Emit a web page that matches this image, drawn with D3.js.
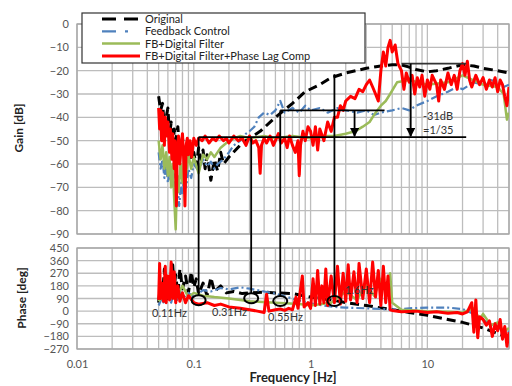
<!DOCTYPE html>
<html>
<head>
<meta charset="utf-8">
<script src="https://cdn.jsdelivr.net/npm/d3@7"></script>
<style>
  body { margin: 0; background: #fff; }
  svg { display: block; }
</style>
</head>
<body>
<svg id="chart" width="512" height="386"></svg>
<script>
// ---- tick labels ----
const freqTicks = [0.01, 0.1, 1, 10];
const freqTickLabels = ['0.01', '0.1', '1', '10'];
const gainTicks = [0, -10, -20, -30, -40, -50, -60, -70, -80, -90];
const phaseTicks = [450, 360, 270, 180, 90, 0, -90, -180, -270];

const seriesNames = ['Original', 'Feedback Control', 'FB+Digital Filter', 'FB+Digital Filter+Phase Lag Comp'];

// ---- Original (gain) ----
const origGainF = [0.050,0.052,0.054,0.056,0.058,0.060,0.062,0.064,0.066,0.068,0.070,0.073,0.076,0.080,0.085,0.090,0.095,0.100,0.105,0.110,0.115,0.120,0.125,0.13,0.14,0.15,0.16,0.17,0.18,0.20,0.26,0.37,0.5,0.7,0.9,1.2,1.5,2.0,3.0,4.0,5.0,6.0,7.0,8.0,10,12,15,18,20,25,30,40,50];
const origGain  = [-31,-37,-34,-44,-40,-36,-48,-42,-52,-45,-50,-44,-56,-49,-57,-52,-58,-55,-61,-53,-58,-54,-62,-56,-67,-58,-63,-55,-60,-57,-51,-46,-40,-34,-29,-26,-23,-21,-19,-18,-17.5,-17.5,-18.5,-19.5,-20.5,-20,-19,-18,-17.5,-18,-19,-20,-21];
// ---- Feedback Control (gain) ----
const fbGainF = [0.050,0.052,0.054,0.056,0.058,0.060,0.062,0.065,0.068,0.070,0.072,0.075,0.078,0.080,0.083,0.086,0.09,0.095,0.10,0.11,0.12,0.13,0.14,0.15,0.16,0.18,0.20,0.22,0.25,0.28,0.30,0.33,0.36,0.40,0.45,0.50,0.55,0.60,0.70,0.80,0.90,1.0,1.2,1.4,1.7,2.0,2.5,3.0,3.5,4.0,5.0,6.0,7.0,8.0,10,12,15,18,20,25,30,35,40,45,50];
const fbGain  = [-55,-62,-58,-66,-60,-68,-63,-70,-64,-72,-66,-78,-68,-73,-65,-70,-62,-66,-60,-63,-58,-61,-59,-62,-60,-58,-55,-52,-50,-47,-46,-44,-40,-38,-39,-37,-33,-38,-36,-38,-35,-37,-36,-38,-36,-37,-38,-37,-39,-38,-37,-36,-37,-35,-33,-31,-29,-27,-28,-25,-26,-24,-25,-27,-26];
// ---- FB+Digital Filter (gain) ----
const dfGainF = [0.050,0.052,0.054,0.056,0.058,0.060,0.062,0.064,0.066,0.068,0.070,0.072,0.074,0.077,0.080,0.083,0.086,0.09,0.095,0.10,0.11,0.12,0.13,0.14,0.15,0.17,0.19,0.22,0.25,0.3,0.4,0.5,0.7,1.0,1.3,1.6,2.0,2.4,2.8,3.2,3.6,4.0,4.4,4.8,5.5,7,10,15,20,30,40,45,48,50];
const dfGain  = [-50,-58,-52,-62,-55,-65,-57,-70,-60,-75,-88,-65,-72,-60,-68,-58,-64,-56,-62,-57,-64,-56,-58,-55,-57,-53,-51,-49,-48,-49,-48,-49,-48,-49,-48,-48,-47,-46,-44,-42,-38,-35,-33,-30,-25,-24,-26,-25,-22,-26,-27,-30,-41,-38];
// ---- FB+Digital Filter+Phase Lag Comp (gain) ----
const plGainF = [0.050,0.051,0.052,0.053,0.054,0.056,0.057,0.059,0.060,0.062,0.063,0.065,0.066,0.068,0.069,0.071,0.072,0.074,0.076,0.078,0.080,0.082,0.084,0.086,0.088,0.090,0.093,0.096,0.100,0.105,0.110,0.118,0.125,0.135,0.145,0.155,0.165,0.18,0.19,0.20,0.22,0.24,0.26,0.28,0.30,0.32,0.34,0.36,0.37,0.38,0.40,0.42,0.45,0.48,0.50,0.53,0.56,0.60,0.63,0.66,0.70,0.74,0.78,0.80,0.82,0.86,0.90,0.95,1.0,1.05,1.1,1.15,1.2,1.3,1.4,1.5,1.6,1.7,1.8,1.9,2.0,2.2,2.4,2.6,2.8,3.0,3.2,3.4,3.6,3.8,4.0,4.2,4.4,4.6,4.8,5.0,5.3,5.6,6.0,6.3,6.6,7.0,7.4,7.8,8.2,8.6,9.0,9.5,10,10.5,11,12,12.5,13,14,15,16,17,18,19,20,21,22,23,24,26,28,30,32,34,36,38,40,42,44,46,48,50];
const plGain  = [-36,-45,-37,-50,-38,-52,-40,-48,-42,-55,-45,-58,-47,-62,-50,-78,-55,-48,-60,-52,-47,-58,-78,-52,-49,-56,-50,-57,-49,-52,-49,-50,-48,-51,-49,-50,-48,-50,-49,-51,-48,-50,-49,-52,-48,-51,-50,-53,-64,-52,-49,-51,-48,-52,-50,-47,-51,-49,-53,-48,-52,-55,-50,-65,-52,-46,-50,-44,-46,-52,-44,-54,-45,-50,-42,-46,-40,-40,-35,-37,-33,-31,-32,-28,-29,-26,-24,-27,-30,-33,-20,-12,-18,-10,-7,-12,-9,-17,-20,-28,-21,-25,-22,-30,-23,-27,-22,-31,-24,-28,-22,-26,-33,-24,-28,-21,-26,-22,-28,-20,-17,-22,-16,-24,-27,-22,-26,-23,-28,-24,-27,-23,-29,-24,-26,-31,-35,-27];

// ---- Original (phase) ----
const origPhaseF = [0.050,0.052,0.054,0.056,0.058,0.060,0.062,0.064,0.066,0.068,0.070,0.073,0.076,0.080,0.085,0.09,0.095,0.10,0.105,0.11,0.12,0.13,0.14,0.15,0.17,0.19,0.22,0.26,0.3,0.4,0.5,0.7,1.0,1.5,2.0,3.0,5.0,7.0,10,15,20,30,40,50];
const origPhase  = [60,200,110,300,150,90,250,130,330,180,260,120,300,160,250,130,280,170,230,120,200,110,240,140,180,130,140,125,130,135,130,125,100,80,60,40,10,-10,-30,-60,-80,-120,-160,-185];
// ---- Feedback Control (phase) ----
const fbPhaseF = [0.050,0.053,0.056,0.06,0.064,0.068,0.072,0.076,0.08,0.09,0.10,0.12,0.14,0.17,0.2,0.25,0.3,0.35,0.4,0.5,0.6,0.7,0.8,1.0,1.3,1.6,2.0,3.0,4.0,5.0,7,10,15,20,25,30,35,40,45,50];
const fbPhase  = [40,90,50,120,60,140,80,150,90,130,100,150,140,165,155,170,160,150,140,125,105,90,75,55,40,30,25,20,15,10,20,25,25,15,-20,-60,-100,-130,-110,-150];
// ---- FB+Digital Filter (phase) ----
const dfPhaseF = [0.05,0.06,0.07,0.08,0.09,0.1,0.12,0.15,0.2,0.3,0.5,0.8,1.0,1.5,2.0,2.5,3.0,3.5,4.0,4.4,4.8,5.0,6,8,10,15,20,25,28,30,35,40,45,50];
const dfPhase  = [70,150,90,180,100,130,110,100,90,70,60,50,40,60,140,80,190,110,230,150,270,60,10,5,0,-5,-10,20,-60,-20,-100,-80,-150,-120];
// ---- FB+Digital Filter+Phase Lag Comp (phase) ----
const plPhaseF = [0.050,0.051,0.052,0.053,0.055,0.057,0.058,0.060,0.062,0.064,0.066,0.068,0.070,0.073,0.076,0.080,0.085,0.09,0.10,0.11,0.13,0.15,0.17,0.20,0.25,0.30,0.35,0.40,0.42,0.44,0.50,0.55,0.60,0.65,0.70,0.75,0.78,0.85,0.88,0.95,1.0,1.05,1.1,1.15,1.2,1.25,1.3,1.35,1.4,1.5,1.6,1.7,1.8,1.9,2.0,2.1,2.2,2.35,2.5,2.6,2.8,3.0,3.2,3.4,3.6,3.8,4.0,4.2,4.4,4.6,4.8,5.0,6,8,10,12,15,18,20,22,24,25,26,27,28,30,32,34,36,38,40,42,44,46,48,50];
const plPhase  = [80,340,90,200,70,320,60,250,80,350,90,280,60,180,70,130,60,110,60,50,60,40,50,30,20,10,0,-10,120,0,10,15,5,20,10,100,20,250,30,60,20,230,40,290,50,180,60,300,40,250,60,320,50,270,70,330,80,280,60,340,90,300,60,350,100,290,40,320,60,250,10,5,-5,0,-10,-5,-15,-10,-20,-5,60,-150,80,-190,-40,-60,-100,-70,-180,-90,-140,-60,-200,-110,-250,-150];

// ---- annotation values ----
const markerFreqs = [0.11, 0.31, 0.55, 1.6];
const markerLabels = ['0.11Hz', '0.31Hz', '0.55Hz', '1.6Hz'];
const markerGainTop = [-48.5, -48.5, -37, -21.5];
const markerPhase = [78, 92, 72, 72];
const levelLow = -48.5, levelMid = -37, levelHigh = -17;

const svg = d3.select('#chart');

const x = d3.scaleLog().domain([0.01, 50]).range([77, 509]);
const yGain = d3.scaleLinear().domain([-90, 0]).range([234, 24]);
const yPhase = d3.scaleLinear().domain([-270, 450]).range([349, 248]);

const gridColor = '#bdbdbd';
const labelColor = '#555';
const tickFont = 'Lato, "Open Sans", sans-serif';

// clip paths
const defs = svg.append('defs');
defs.append('clipPath').attr('id', 'clipGain').append('rect')
  .attr('x', 77).attr('y', 24).attr('width', 432).attr('height', 210);
defs.append('clipPath').attr('id', 'clipPhase').append('rect')
  .attr('x', 77).attr('y', 248).attr('width', 432).attr('height', 101);
defs.append('marker').attr('id', 'arrow').attr('viewBox', '0 0 10 10')
  .attr('refX', 9).attr('refY', 5).attr('markerWidth', 5).attr('markerHeight', 5)
  .attr('orient', 'auto')
  .append('path').attr('d', 'M0,0 L10,5 L0,10 z').attr('fill', '#000');

function drawGrid(y, ticks) {
  const g = svg.append('g');
  const [y0, y1] = y.range();
  g.selectAll('line.v').data(x.ticks()).enter().append('line')
    .attr('x1', d => x(d)).attr('x2', d => x(d))
    .attr('y1', y1).attr('y2', y0)
    .attr('stroke', gridColor).attr('stroke-width', 1.3);
  g.selectAll('line.h').data(ticks).enter().append('line')
    .attr('x1', x.range()[0]).attr('x2', x.range()[1])
    .attr('y1', d => y(d)).attr('y2', d => y(d))
    .attr('stroke', gridColor).attr('stroke-width', 1.3);
  g.append('rect')
    .attr('x', x.range()[0]).attr('y', y1)
    .attr('width', x.range()[1] - x.range()[0]).attr('height', y0 - y1)
    .attr('fill', 'none').attr('stroke', '#a6a6a6').attr('stroke-width', 1.3);

  const ax = svg.append('g')
    .attr('transform', `translate(${x.range()[0]},0)`)
    .call(d3.axisLeft(y).tickValues(ticks).tickSize(0).tickPadding(8));
  ax.select('.domain').remove();
  ax.selectAll('text').attr('fill', labelColor).style('font-family', tickFont).style('font-size', '11px');
}

drawGrid(yGain, gainTicks);
drawGrid(yPhase, phaseTicks);

const xa = svg.append('g')
  .attr('transform', 'translate(0,357)')
  .call(d3.axisBottom(x).tickValues(freqTicks).tickFormat((d, i) => freqTickLabels[i]).tickSize(0).tickPadding(3));
xa.select('.domain').remove();
xa.selectAll('text').attr('fill', labelColor).style('font-family', tickFont).style('font-size', '11px');

// axis titles
svg.append('text').attr('transform', 'translate(23,128) rotate(-90)')
  .attr('text-anchor', 'middle').style('font-family', tickFont).style('font-weight', 'bold')
  .style('font-size', '12px').attr('fill', '#222').text('Gain [dB]');
svg.append('text').attr('transform', 'translate(26,298) rotate(-90)')
  .attr('text-anchor', 'middle').style('font-family', tickFont).style('font-weight', 'bold')
  .style('font-size', '12px').attr('fill', '#222').text('Phase [deg]');
svg.append('text').attr('x', 293).attr('y', 382)
  .attr('text-anchor', 'middle').style('font-family', tickFont).style('font-weight', 'bold')
  .style('font-size', '13px').attr('fill', '#222').text('Frequency [Hz]');

// series styles
const styles = [
  { color: '#000000', width: 3, dash: '9,5' },
  { color: '#4f81bd', width: 2.2, dash: '8,3,2,3' },
  { color: '#9bbb59', width: 2.5, dash: null },
  { color: '#ff0000', width: 3, dash: null }
];

const gainSets = [[origGainF, origGain], [fbGainF, fbGain], [dfGainF, dfGain], [plGainF, plGain]];
const phaseSets = [[origPhaseF, origPhase], [fbPhaseF, fbPhase], [dfPhaseF, dfPhase], [plPhaseF, plPhase]];

function drawSeries(sets, y, clip) {
  const g = svg.append('g').attr('clip-path', `url(#${clip})`);
  // black first, then blue, green, red on top
  [0, 1, 2, 3].forEach(i => {
    const [fs, vs] = sets[i];
    const pts = fs.map((f, k) => [f, vs[k]]);
    g.append('path')
      .datum(pts)
      .attr('fill', 'none')
      .attr('stroke', styles[i].color)
      .attr('stroke-width', styles[i].width)
      .attr('stroke-linejoin', 'round')
      .attr('stroke-dasharray', styles[i].dash)
      .attr('d', d3.line().x(d => x(d[0])).y(d => y(d[1])));
  });
}
drawSeries(gainSets, yGain, 'clipGain');
drawSeries(phaseSets, yPhase, 'clipPhase');

// annotations
const ann = svg.append('g').attr('stroke', '#000').attr('stroke-width', 1.8).attr('fill', 'none');
markerFreqs.forEach((f, i) => {
  ann.append('line')
    .attr('x1', x(f)).attr('x2', x(f))
    .attr('y1', yGain(markerGainTop[i])).attr('y2', yPhase(markerPhase[i]) - 5);
  ann.append('ellipse')
    .attr('cx', x(f)).attr('cy', yPhase(markerPhase[i]))
    .attr('rx', 7).attr('ry', 5).attr('stroke-width', 2);
});
ann.append('line').attr('x1', x(0.11)).attr('x2', x(21.5))
  .attr('y1', yGain(levelLow)).attr('y2', yGain(levelLow));
ann.append('line').attr('x1', x(0.55)).attr('x2', x(4.3))
  .attr('y1', yGain(levelMid)).attr('y2', yGain(levelMid));
ann.append('line').attr('x1', x(6.0)).attr('x2', x(21.5))
  .attr('y1', yGain(levelHigh)).attr('y2', yGain(levelHigh)).attr('stroke', '#333');
ann.append('line').attr('x1', x(2.38)).attr('x2', x(2.38))
  .attr('y1', yGain(levelMid)).attr('y2', yGain(levelLow) - 1).attr('marker-end', 'url(#arrow)');
ann.append('line').attr('x1', x(7.2)).attr('x2', x(7.2))
  .attr('y1', yGain(levelHigh)).attr('y2', yGain(levelLow) - 1).attr('marker-end', 'url(#arrow)');

const annText = svg.append('g').style('font-family', tickFont).style('font-size', '11px').attr('fill', '#333');
annText.append('text').attr('x', 423).attr('y', 120).text('-31dB');
annText.append('text').attr('x', 423).attr('y', 134).text('=1/35');
const labelPos = [[152, 317], [212, 316], [268, 321], [345, 294]];
markerLabels.forEach((t, i) => {
  annText.append('text').attr('x', labelPos[i][0]).attr('y', labelPos[i][1]).text(t);
});

// legend
const lg = svg.append('g');
lg.append('rect').attr('x', 82).attr('y', 13).attr('width', 283).attr('height', 50)
  .attr('fill', '#fff').attr('stroke', '#333').attr('stroke-width', 1.2);
const legendDash = ['14,8', '14,9,3,20', null, null];
seriesNames.forEach((name, i) => {
  const yy = 19 + i * 12.3;
  lg.append('line').attr('x1', 102).attr('x2', 140).attr('y1', yy).attr('y2', yy)
    .attr('stroke', styles[i].color).attr('stroke-width', styles[i].width)
    .attr('stroke-dasharray', legendDash[i]);
  lg.append('text').attr('x', 145).attr('y', yy + 4)
    .style('font-family', tickFont).style('font-size', '11px').attr('fill', '#222').text(name);
});
</script>
</body>
</html>
